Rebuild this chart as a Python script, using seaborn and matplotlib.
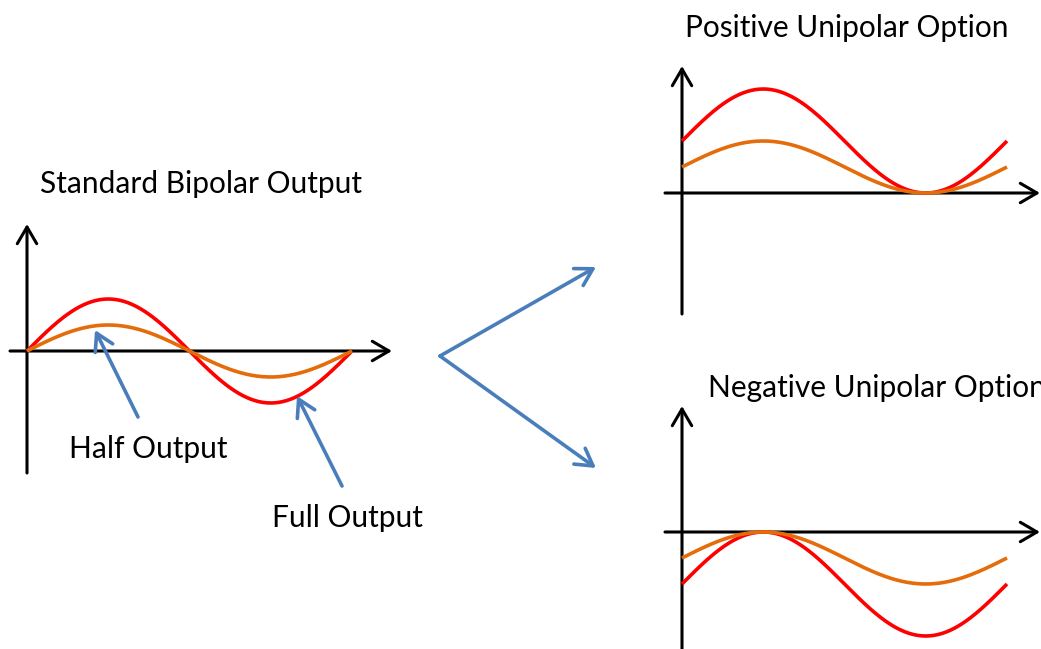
import matplotlib.pyplot as plt
import numpy as np
import pandas as pd
import seaborn as sns

# waveform description
PHASE_DEG = np.linspace(0, 360, 241)
LEVELS = ["Full Output", "Half Output"]
AMPLITUDE = [1.0, 0.5]
LEVEL_COLORS = ["#FF0000", "#E46C0A"]

PANELS = ["Standard Bipolar Output", "Positive Unipolar Option", "Negative Unipolar Option"]
DC_OFFSET = [0.0, 1.0, -1.0]  # in units of the level amplitude

# layout (pixels, y measured from the top)
W, H = 1041, 649
PX_PER_DEG = 325 / 360
PX_PER_UNIT = 52
PANEL_ORIGIN = [(27, 351), (682, 193), (682, 532)]
PANEL_BOX = [(0, 215, 400, 480), (655, 55, 1041, 320), (655, 395, 1041, 649)]

AXIS_ARROWS = [
    ((27, 473), (27, 224)), ((10, 351), (392, 351)),
    ((682, 314), (682, 66)), ((665, 193), (1040, 193)),
    ((682, 649), (682, 406)), ((665, 532), (1040, 532)),
]
BLUE_ARROWS = [
    ((138, 417), (95, 330)), ((342, 486), (297, 396)),
    ((440, 356), (596, 267)), ((440, 356), (596, 468)),
]
TEXTS = [
    ("Standard Bipolar Output", 40, 193),
    ("Positive Unipolar Option", 685, 37),
    ("Negative Unipolar Option", 708, 397),
    ("Half Output", 69, 458),
    ("Full Output", 272, 527),
]


def waveform_frame(offset: float) -> pd.DataFrame:
    rows = []
    for level, amp in zip(LEVELS, AMPLITUDE):
        y = amp * (np.sin(np.deg2rad(PHASE_DEG)) + offset)
        rows.append(pd.DataFrame({"phase": PHASE_DEG, "value": y, "level": level}))
    return pd.concat(rows, ignore_index=True)


def add_panel(fig, origin, box):
    x0, y0, x1, y1 = box
    ax = fig.add_axes([x0 / W, 1 - y1 / H, (x1 - x0) / W, (y1 - y0) / H], zorder=1)
    ox, oy = origin
    ax.set_xlim((x0 - ox) / PX_PER_DEG, (x1 - ox) / PX_PER_DEG)
    ax.set_ylim((oy - y1) / PX_PER_UNIT, (oy - y0) / PX_PER_UNIT)
    ax.axis("off")
    return ax


def overlay(fig, z):
    ax = fig.add_axes([0, 0, 1, 1], zorder=z)
    ax.set_xlim(0, W)
    ax.set_ylim(H, 0)
    ax.axis("off")
    return ax


def arrow(ax, tail, tip, color, lw):
    ax.annotate(
        "", xy=tip, xytext=tail,
        arrowprops=dict(
            arrowstyle="->,head_length=0.6,head_width=0.35",
            lw=lw, color=color, mutation_scale=20, shrinkA=0, shrinkB=0,
        ),
        annotation_clip=False,
    )


def main() -> None:
    sns.set_style("white")
    plt.rcParams["font.family"] = ["Lato", "DejaVu Sans"]

    fig = plt.figure(figsize=(W / 100, H / 100), dpi=100)

    back = overlay(fig, 0)
    for tail, tip in AXIS_ARROWS:
        arrow(back, tail, tip, "black", 2.2)

    for name, offset, origin, box in zip(PANELS, DC_OFFSET, PANEL_ORIGIN, PANEL_BOX):
        ax = add_panel(fig, origin, box)
        sns.lineplot(
            data=waveform_frame(offset), x="phase", y="value",
            hue="level", hue_order=LEVELS, palette=LEVEL_COLORS,
            linewidth=2.6, legend=False, ax=ax, sort=False,
        )
        for line in ax.get_lines():
            line.set_solid_capstyle("butt")

    front = overlay(fig, 2)
    for tail, tip in BLUE_ARROWS:
        arrow(front, tail, tip, "#4A7EBB", 2.6)

    for text, x, y in TEXTS:
        front.text(x, y, text, fontsize=21.5, ha="left", va="baseline", color="black")

    fig.savefig("out.png", dpi=100)


if __name__ == "__main__":
    main()
